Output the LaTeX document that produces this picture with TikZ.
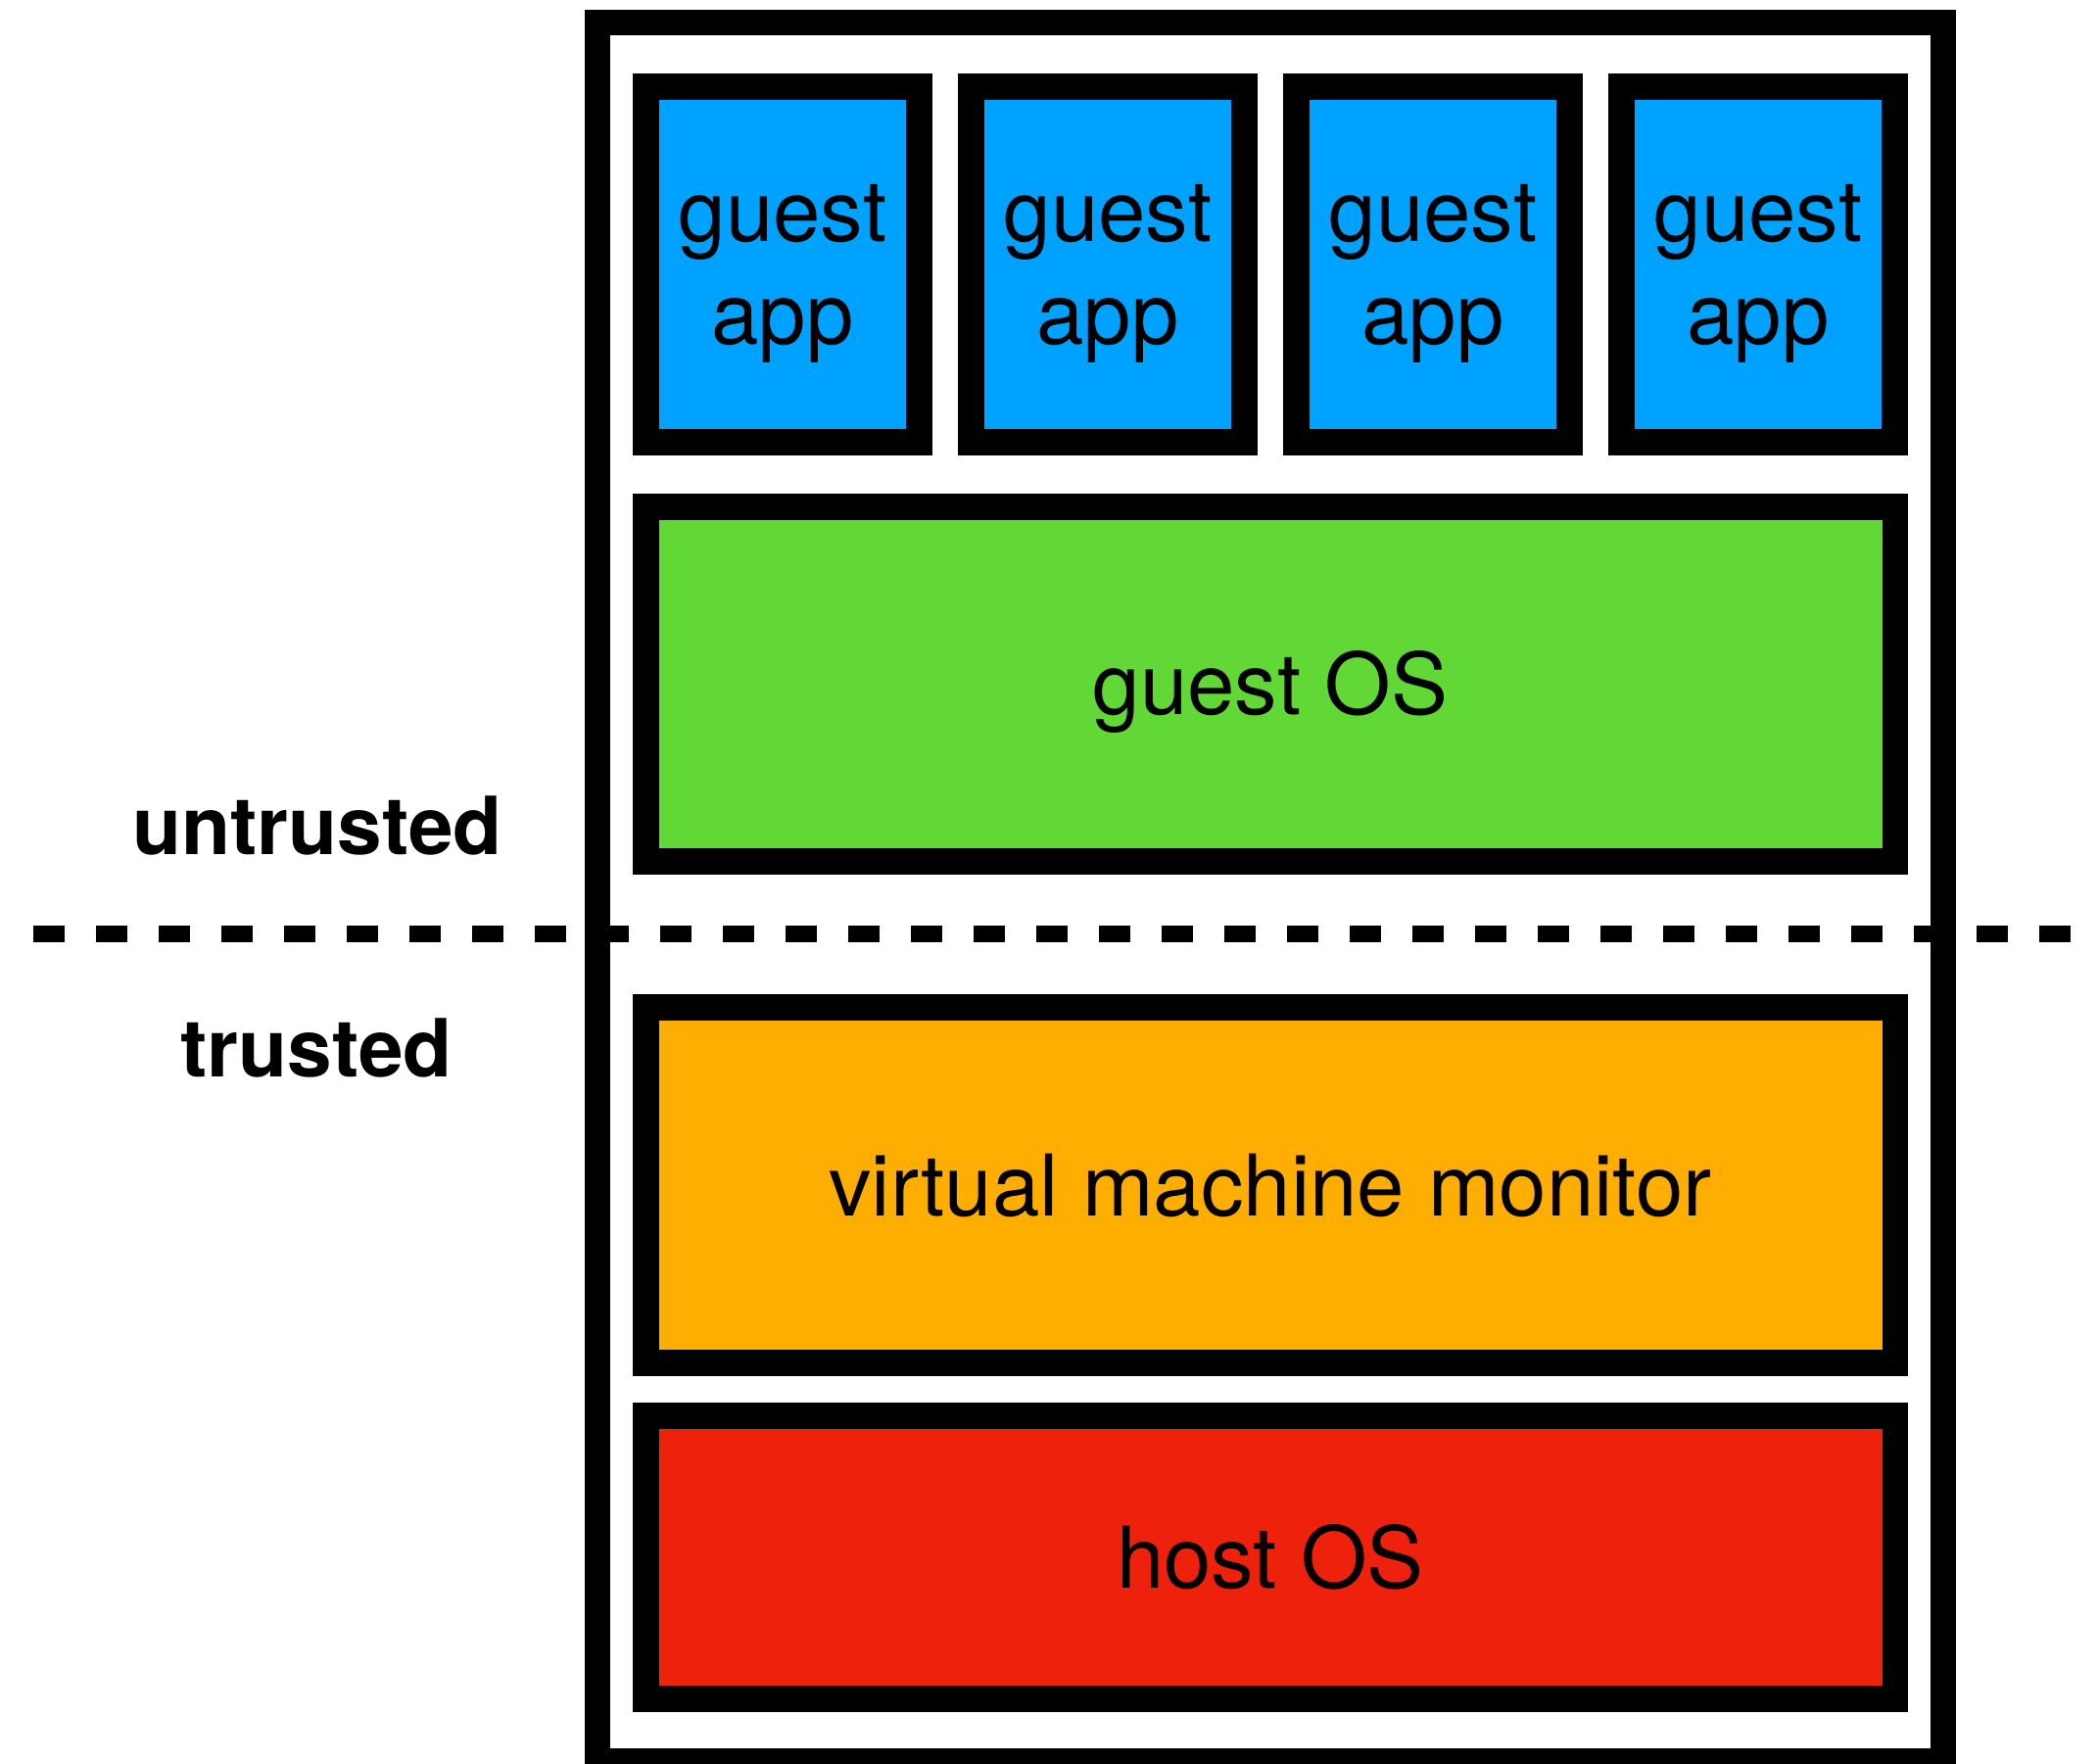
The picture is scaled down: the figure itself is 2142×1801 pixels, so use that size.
\documentclass[tikz,border=0pt]{standalone}
\usepackage{fontspec}
\setmainfont{TeX Gyre Heros}
\definecolor{appblue}{HTML}{00A2FF}
\definecolor{osgreen}{HTML}{61D836}
\definecolor{vmmorange}{HTML}{FEAE00}
\definecolor{hostred}{HTML}{EE220C}

\begin{document}
\begin{tikzpicture}[x=0.01cm, y=-0.01cm,
		box/.style={draw, line width=7.6pt, inner sep=0pt, font=\fontsize{24.75}{29.9}\selectfont},
		layer/.style={box, minimum width=12.75cm, text height=17.8pt, text depth=0pt},
		app/.style={box, fill=appblue, minimum width=2.79cm, minimum height=3.63cm, align=center, text depth=0pt},
		side/.style={anchor=base, font=\bfseries\fontsize{23.3}{28}\selectfont}]
	\path[fill=white, use as bounding box] (0,0) rectangle (2142,1801);
	\node[draw, line width=7.4pt, minimum width=13.74cm, minimum height=17.73cm] (frame) at (1297,910.5) {};

	\foreach \i in {0,1,2,3} {
		\node[app] (app-\i) at (799+332*\i, 270) {guest\\app};
	}
	\node[layer, fill=osgreen, minimum height=3.62cm] (guest) at (1297,698.5) {guest OS};
	\node[layer, fill=vmmorange, minimum height=3.63cm] (vmm) at (1297,1210) {virtual machine monitor};
	\node[layer, fill=hostred, minimum height=2.89cm] (host) at (1297,1590) {host OS};

	\coordinate (cut-l) at (34,953.5);
	\coordinate (cut-r) at (2120,953.5);
	\draw[line width=5.1pt, dash pattern=on 9.1pt off 9.1pt] (cut-l) -- (cut-r);
	\node[side] (untrusted) at (324,873) {untrusted};
	\node[side] (trusted) at (323,1100) {trusted};
\end{tikzpicture}
\end{document}
